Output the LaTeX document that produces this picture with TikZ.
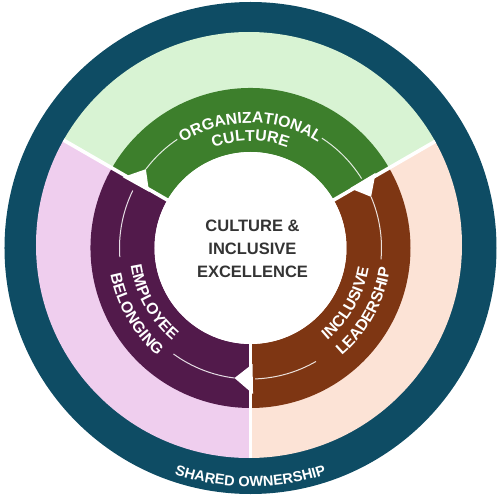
\documentclass[tikz,border=0pt]{standalone}
\usepackage{fontspec}
\setmainfont{Liberation Sans}
\usetikzlibrary{decorations.text}
\definecolor{cTeal}{RGB}{14,76,100}
\definecolor{cLG}{RGB}{216,243,211}
\definecolor{cLP}{RGB}{239,206,238}
\definecolor{cLO}{RGB}{252,227,214}
\definecolor{cGreen}{RGB}{61,127,44}
\definecolor{cPurple}{RGB}{82,26,75}
\definecolor{cBrown}{RGB}{126,54,19}
\definecolor{cText}{RGB}{52,52,52}
\newcommand\ringfont{\bfseries\fontsize{15.8}{18}\selectfont}
\newcommand\ownfont{\bfseries\fontsize{14.5}{17}\selectfont}
\newcommand\centerfont{\bfseries\fontsize{16.5}{20}\selectfont}
\tikzset{
  divider/.style={white,line width=3.6pt},
  thinarc/.style={white,opacity=0.85,line width=1pt},
  notch/.style={fill=white,draw=none},
  curvedtext/.style={decorate,decoration={text along path,text align=center,text color=white,text={#1}}},
  centertext/.style={text=cText,font=\centerfont,anchor=base,inner sep=0pt}
}
\begin{document}
\begin{tikzpicture}[x=1pt,y=1pt]
\useasboundingbox (-250.5,-250) rectangle (250.5,248);
% outer ring
\fill[cTeal] (0,0) circle (246);
% light sectors
\begin{scope}
\clip (-1.5,3) circle (213);
\fill[cLG] (0,0) -- (30:300) arc[start angle=30,end angle=150,radius=300] -- cycle;
\fill[cLP] (0,0) -- (150:300) arc[start angle=150,end angle=270,radius=300] -- cycle;
\fill[cLO] (0,0) -- (270:300) arc[start angle=270,end angle=390,radius=300] -- cycle;
\end{scope}
% coloured ring segments
\fill[cGreen] (30:160) arc[start angle=30,end angle=150,radius=160] -- (150:96) arc[start angle=150,end angle=30,radius=96] -- cycle;
\fill[cPurple] (150:160) arc[start angle=150,end angle=270,radius=160] -- (270:96) arc[start angle=270,end angle=150,radius=96] -- cycle;
\fill[cBrown] (270:160) arc[start angle=270,end angle=390,radius=160] -- (390:96) arc[start angle=390,end angle=270,radius=96] -- cycle;
\fill[white] (0,0) circle (96);
% dividers
\begin{scope}
\clip (-1.5,3) circle (213);
\draw[divider] (30:94) -- (30:230);
\draw[divider] (150:94) -- (150:230);
\draw[divider] (270:94) -- (270:230);
\end{scope}
% notches
\fill[notch] (151:116) -- (143:131) -- (151:146) -- cycle;
\fill[notch] (271:116) -- (263:131) -- (271:146) -- cycle;
\fill[notch] (31:116) -- (23:131) -- (31:146) -- cycle;
% thin arcs
\draw[thinarc] (143:131) arc[start angle=143,end angle=124,radius=131];
\draw[thinarc] (57:131) arc[start angle=57,end angle=32,radius=131];
\draw[thinarc] (154:131) arc[start angle=154,end angle=184,radius=131];
\draw[thinarc] (234:131) arc[start angle=234,end angle=263,radius=131];
\draw[thinarc] (-88:131) arc[start angle=-88,end angle=-60,radius=131];
\draw[thinarc] (-5:131) arc[start angle=-5,end angle=23,radius=131];
% curved labels
\path[curvedtext={|\ringfont|ORGANIZATIONAL}] (160:125) arc[start angle=160,end angle=20,radius=125];
\path[curvedtext={|\ringfont|CULTURE}] (150:107) arc[start angle=150,end angle=30,radius=107];
\path[curvedtext={|\ringfont|EMPLOYEE}] (159:121) arc[start angle=159,end angle=259,radius=121];
\path[curvedtext={|\ringfont|BELONGING}] (160:142.5) arc[start angle=160,end angle=260,radius=142.5];
\path[curvedtext={|\ringfont|INCLUSIVE}] (-80:120) arc[start angle=-80,end angle=20,radius=120];
\path[curvedtext={|\ringfont|LEADERSHIP}] (-79:141) arc[start angle=-79,end angle=21,radius=141];
\path[curvedtext={|\ownfont|SHARED OWNERSHIP}] (200:238.5) arc[start angle=200,end angle=340,radius=238.5];
% centre text
\node[centertext] (c1) at (2,16) {CULTURE \&};
\node[centertext] (c2) at (2,-7) {INCLUSIVE};
\node[centertext] (c3) at (2,-29.5) {EXCELLENCE};
\end{tikzpicture}
\end{document}
